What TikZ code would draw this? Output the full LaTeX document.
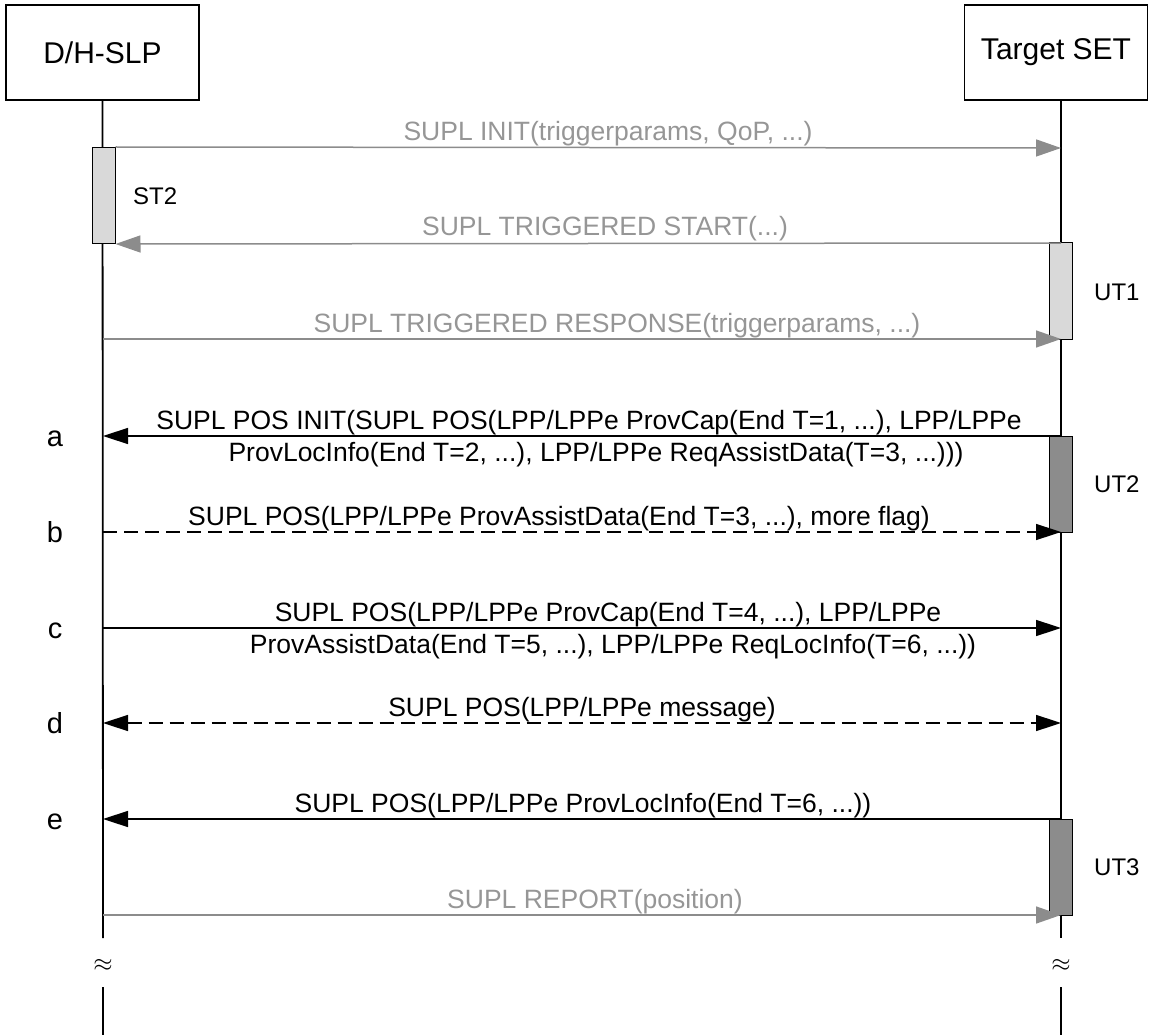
\documentclass[tikz,border=0pt]{standalone}
\usepackage{fontspec}
\setmainfont{Liberation Sans}
\usepackage{tikz}
\usetikzlibrary{arrows.meta, calc}
\definecolor{msgGray}{RGB}{140,140,140}
\definecolor{txtGray}{RGB}{150,150,150}
\definecolor{barLight}{RGB}{217,217,217}
\definecolor{barDark}{RGB}{140,140,140}

\begin{document}
\begin{tikzpicture}[x=1pt, y=-1pt,
    entity/.style={draw, line width=1.8pt, minimum height=95pt, inner sep=0pt, font=\fontsize{30}{34}\selectfont},
    bar/.style={draw, line width=1pt, minimum width=23pt, minimum height=96pt, inner sep=0pt},
    msg/.style={line width=1.5pt, -{Triangle[length=25pt, width=16pt]}},
    dmsg/.style={msg, dash pattern=on 14pt off 7pt},
    gmsg/.style={msg, draw=msgGray, -{Triangle[length=25pt, width=17pt, fill=msgGray]}},
    txt/.style={anchor=base, inner sep=0pt, font=\fontsize{26.5}{30}\selectfont},
    gtxt/.style={txt, text=txtGray},
    step label/.style={anchor=base, inner sep=0pt, font=\fontsize{29}{33}\selectfont},
    timer/.style={anchor=west, inner sep=0pt, font=\fontsize{24}{28}\selectfont}]
        \useasboundingbox (0,0) rectangle (1149,1035);
        % entities and lifelines
        \node[entity, minimum width=193pt] (slp) at (102.5,52.5) {D/H-SLP};
        \node[entity, minimum width=183pt] (set) at (1056,52.5) {Target SET};
        \coordinate (slp-end) at (103,938);
        \coordinate (set-end) at (1061,938);
        \coordinate (slp-low) at (103,987);
        \coordinate (set-low) at (1061,987);
        \coordinate (slp-bot) at (103,1035);
        \coordinate (set-bot) at (1061,1035);
        \draw[line width=1.8pt] (slp.south) -- (slp-end) (slp-low) -- (slp-bot);
        \draw[line width=1.8pt] (set.south -| set-end) -- (set-end) (set-low) -- (set-bot);
        \node[font=\fontsize{25}{28}\selectfont] (slp-gap) at (103,965) {$\approx$};
        \node[font=\fontsize{25}{28}\selectfont] (set-gap) at (1061,965) {$\approx$};
        \foreach \n/\y in {init/148, start/243, resp/339, a/436, b/532, c/628, d/723, e/819, rep/915}{
          \coordinate (slp-\n) at (103,\y);
          \coordinate (set-\n) at (1061,\y);
        }
        % activation bars
        \node[bar, fill=barLight] (st2) at (103.5,195.5) {};
        \node[bar, fill=barLight] (ut1) at (1061,291) {};
        \node[bar, fill=barDark] (ut2) at (1061,484) {};
        \node[bar, fill=barDark] (ut3) at (1061,867) {};
        \node[timer] (st2-lbl) at (133,196) {ST2};
        \node[timer] (ut1-lbl) at (1094,292) {UT1};
        \node[timer] (ut2-lbl) at (1094,484) {UT2};
        \node[timer] (ut3-lbl) at (1094,867) {UT3};
        % trigger setup
        \draw[gmsg] (st2.north east) -- (set-init);
        \node[gtxt] (m-init) at (608,141) {SUPL INIT(triggerparams, QoP, ...)};
        \draw[gmsg] (set-start) -- (st2.south east);
        \node[gtxt] (m-start) at (605,236) {SUPL TRIGGERED START(...)};
        \draw[gmsg] (slp-resp) -- (set-resp);
        \node[gtxt] (m-resp) at (617,332) {SUPL TRIGGERED RESPONSE(triggerparams, ...)};
        % positioning session
        \draw[msg] (set-a) -- (slp-a);
        \node[txt] (m-a1) at (589,429) {SUPL POS INIT(SUPL POS(LPP/LPPe ProvCap(End T=1, ...), LPP/LPPe};
        \node[txt] (m-a2) at (596,461) {ProvLocInfo(End T=2, ...), LPP/LPPe ReqAssistData(T=3, ...)))};
        \draw[dmsg] (slp-b) -- (set-b);
        \node[txt] (m-b) at (559,525) {SUPL POS(LPP/LPPe ProvAssistData(End T=3, ...), more flag)};
        \draw[msg] (slp-c) -- (set-c);
        \node[txt] (m-c1) at (608,621) {SUPL POS(LPP/LPPe ProvCap(End T=4, ...), LPP/LPPe};
        \node[txt] (m-c2) at (613,653) {ProvAssistData(End T=5, ...), LPP/LPPe ReqLocInfo(T=6, ...))};
        \draw[dmsg, {Triangle[length=25pt, width=16pt]}-{Triangle[length=25pt, width=16pt]}] (slp-d) -- (set-d);
        \node[txt] (m-d) at (582,716) {SUPL POS(LPP/LPPe message)};
        \draw[msg] (set-e) -- (slp-e);
        \node[txt] (m-e) at (583,812) {SUPL POS(LPP/LPPe ProvLocInfo(End T=6, ...))};
        \draw[gmsg] (slp-rep) -- (set-rep);
        \node[gtxt] (m-rep) at (595,908) {SUPL REPORT(position)};
        % step letters
        \foreach \s in {a,b,c,d,e}{
          \node[step label] (lbl-\s) at ($(slp-\s)+(-48,10)$) {\s};
        }
      \end{tikzpicture}
\end{document}
